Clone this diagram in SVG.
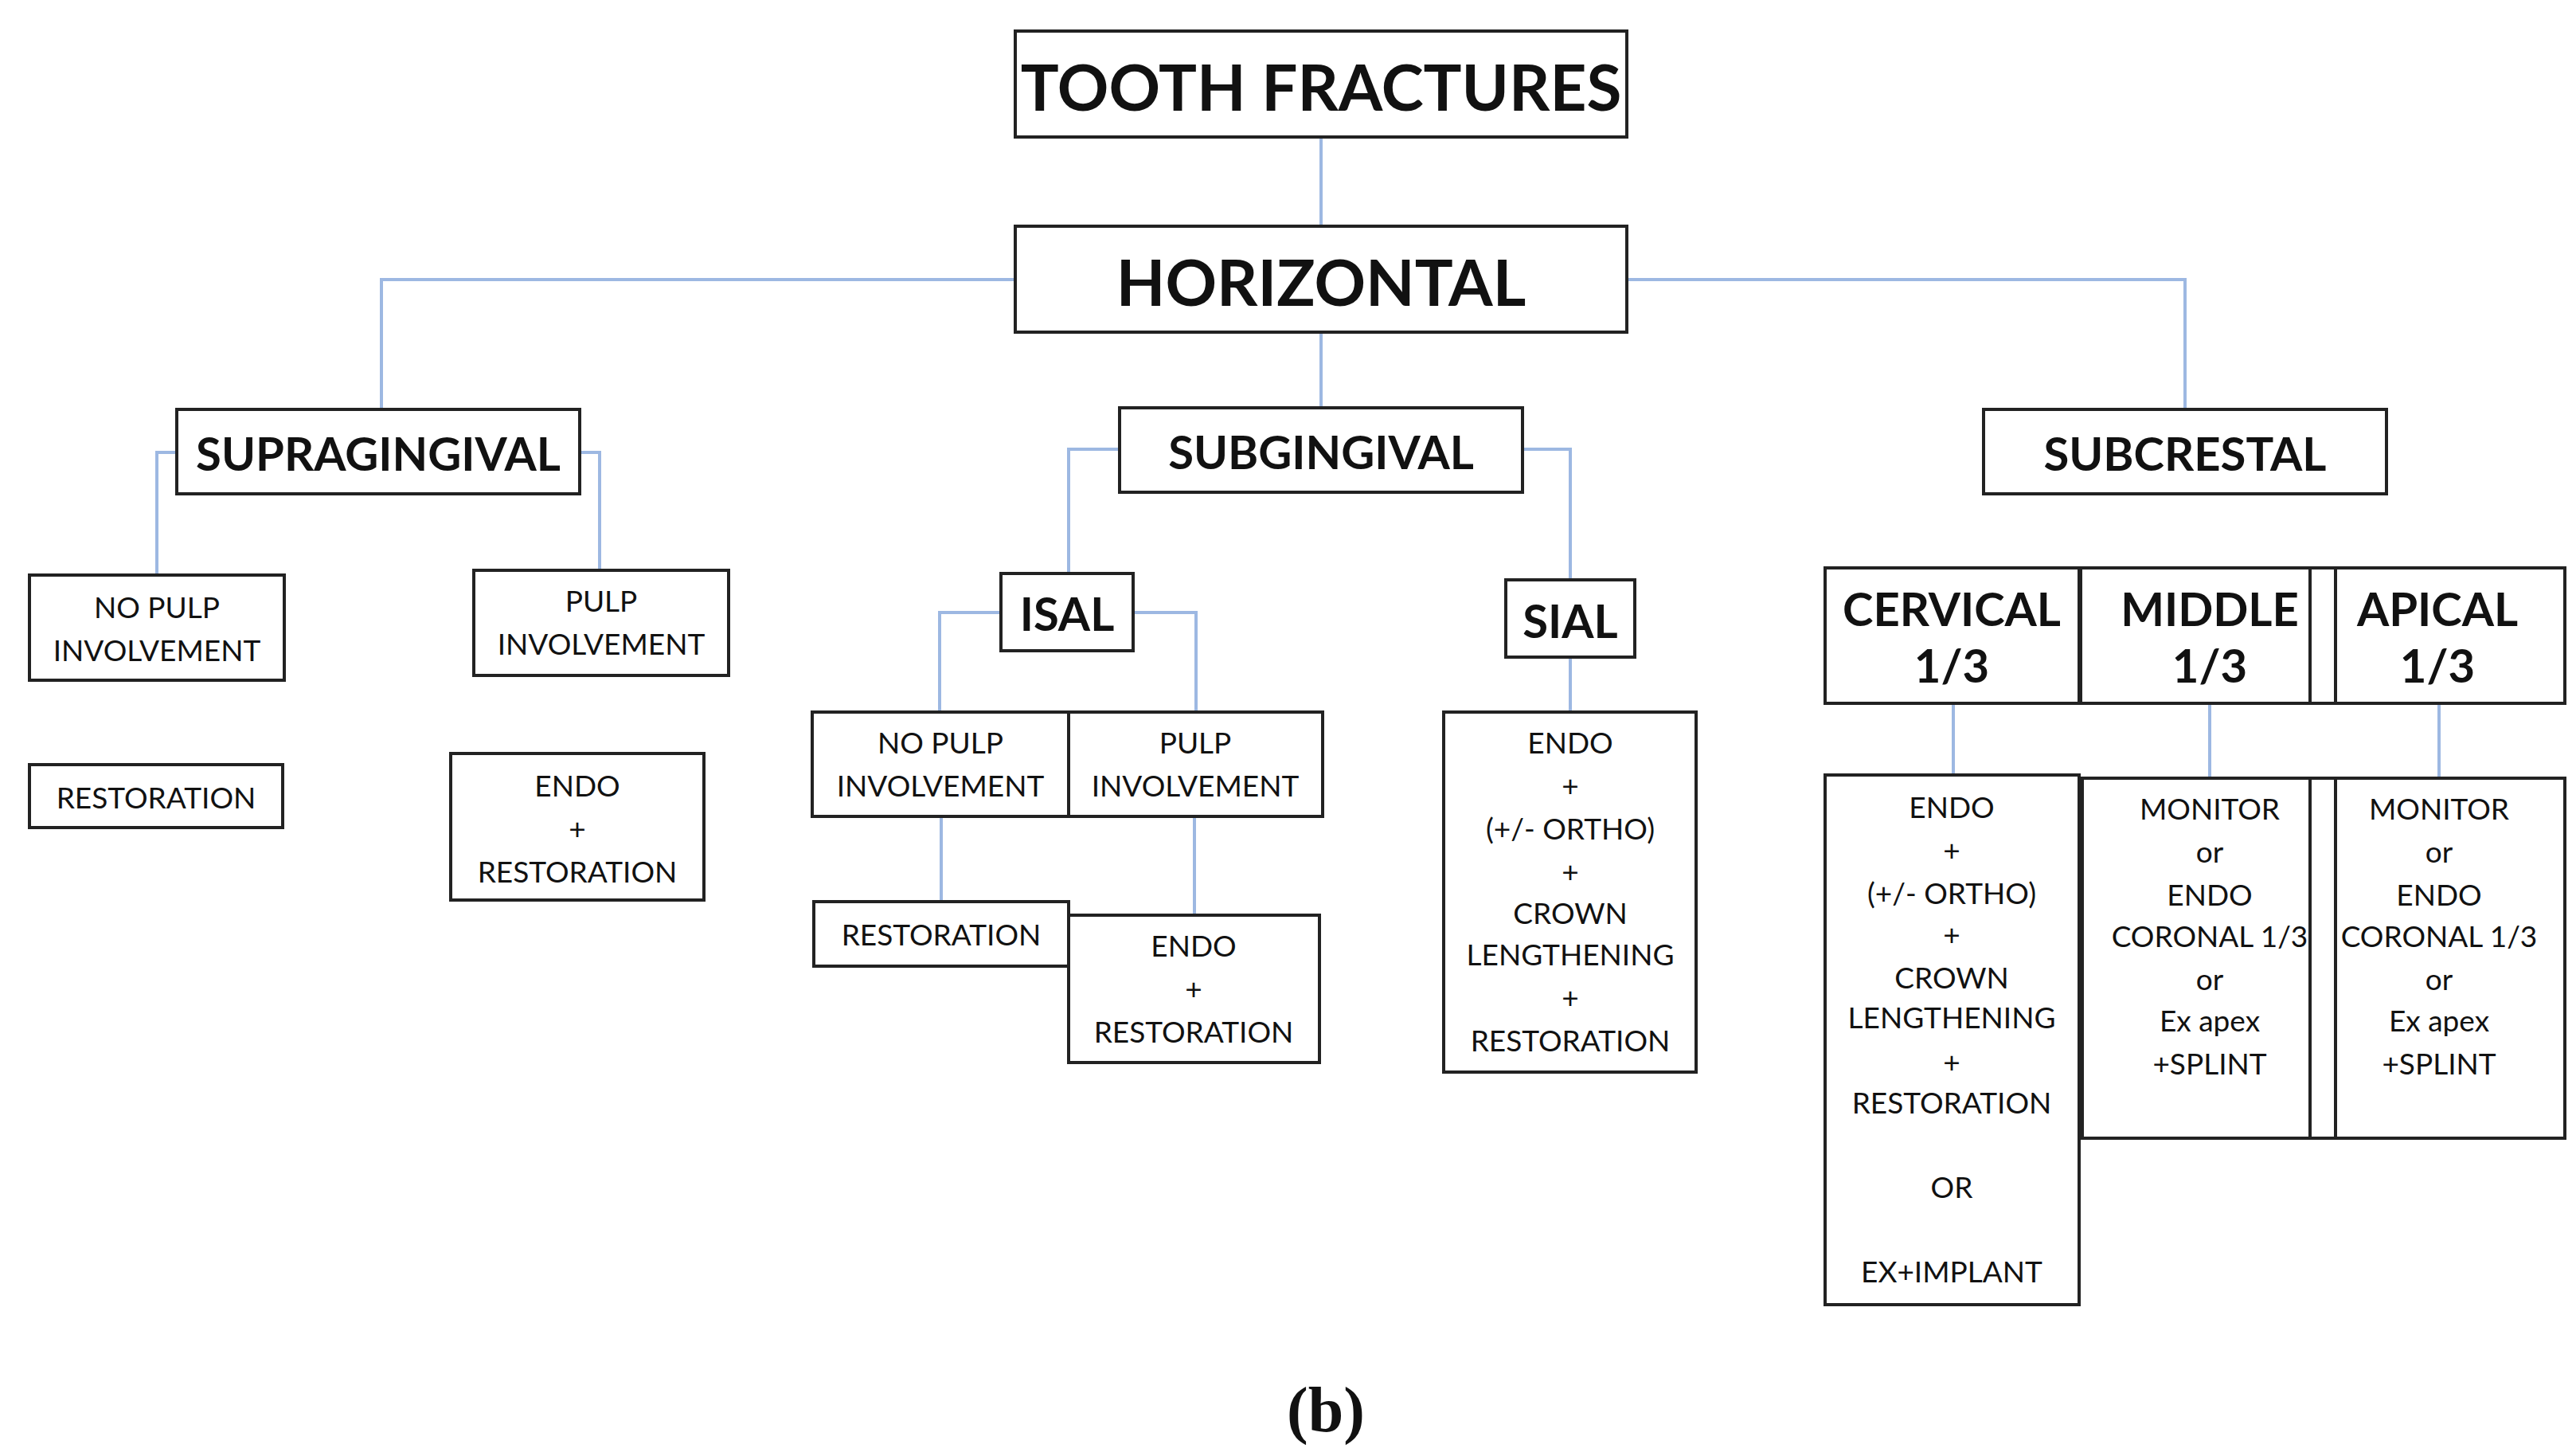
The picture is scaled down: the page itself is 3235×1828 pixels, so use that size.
<svg xmlns="http://www.w3.org/2000/svg" width="3235" height="1828" viewBox="0 0 3235 1828">
<style>
rect{fill:#fff;stroke:#222;stroke-width:4}
text{font-family:Lato,"Open Sans",sans-serif;text-anchor:middle;dominant-baseline:central;fill:#111}
.b{font-weight:bold}
.h1{font-size:80px}
.h2{font-size:58px}
.s{font-size:37px}
#connectors path{fill:none;stroke:#9db8e2;stroke-width:4}
</style>
<rect x="0" y="0" width="3235" height="1828" style="fill:#fff;stroke:none"/>
<g id="connectors">
<path d="M1659 172V284"/>
<path d="M1659 417V512"/>
<path d="M1275 351H479V514"/>
<path d="M2043 351H2744V514"/>
<path d="M222 568H197V722"/>
<path d="M728 568H753V716"/>
<path d="M1406 564H1342V720"/>
<path d="M1912 564H1972V728"/>
<path d="M1257 769H1180V894"/>
<path d="M1423 769H1502V894"/>
<path d="M1182 1025V1132"/>
<path d="M1500 1025V1149"/>
<path d="M1972 825V894"/>
<path d="M2453 883V973"/>
<path d="M2775 883V977"/>
<path d="M3063 883V977"/>
</g>
<g id="tooth"><rect x="1275" y="39" width="768" height="133"/><text class="b h1" x="1659" y="108">TOOTH FRACTURES</text></g>
<g id="horizontal"><rect x="1275" y="284" width="768" height="133"/><text class="b h1" x="1659" y="353">HORIZONTAL</text></g>
<g id="supra"><rect x="222" y="514" width="506" height="106"/><text class="b h2" x="475" y="568">SUPRAGINGIVAL</text></g>
<g id="subg"><rect x="1406" y="512" width="506" height="106"/><text class="b h2" x="1659" y="566">SUBGINGIVAL</text></g>
<g id="subcrestal"><rect x="2491" y="514" width="506" height="106"/><text class="b h2" x="2744" y="568">SUBCRESTAL</text></g>
<g id="supra-nopulp"><rect x="37" y="722" width="320" height="132"/><text class="s" x="197" y="761">NO PULP</text><text class="s" x="197" y="815">INVOLVEMENT</text></g>
<g id="supra-pulp"><rect x="595" y="716" width="320" height="132"/><text class="s" x="755" y="753">PULP</text><text class="s" x="755" y="807">INVOLVEMENT</text></g>
<g id="supra-rest"><rect x="37" y="960" width="318" height="79"/><text class="s" x="196" y="1000">RESTORATION</text></g>
<g id="supra-endo"><rect x="566" y="946" width="318" height="184"/><text class="s" x="725" y="985">ENDO</text><text class="s" x="725" y="1039">+</text><text class="s" x="725" y="1093">RESTORATION</text></g>
<g id="isal"><rect x="1257" y="720" width="166" height="97"/><text class="b h2" x="1340" y="769">ISAL</text></g>
<g id="isal-nopulp"><rect x="1020" y="894" width="322" height="131"/><text class="s" x="1181" y="931">NO PULP</text><text class="s" x="1181" y="985">INVOLVEMENT</text></g>
<g id="isal-pulp"><rect x="1342" y="894" width="319" height="131"/><text class="s" x="1501" y="931">PULP</text><text class="s" x="1501" y="985">INVOLVEMENT</text></g>
<g id="isal-rest"><rect x="1022" y="1132" width="320" height="81"/><text class="s" x="1182" y="1172">RESTORATION</text></g>
<g id="isal-endo"><rect x="1342" y="1149" width="315" height="185"/><text class="s" x="1499" y="1186">ENDO</text><text class="s" x="1499" y="1240">+</text><text class="s" x="1499" y="1294">RESTORATION</text></g>
<g id="sial"><rect x="1891" y="728" width="162" height="97"/><text class="b h2" x="1972" y="778">SIAL</text></g>
<g id="sial-tx"><rect x="1813" y="894" width="317" height="452"/>
<text class="s" x="1972" y="931">ENDO</text><text class="s" x="1972" y="985">+</text><text class="s" x="1972" y="1039">(+/- ORTHO)</text><text class="s" x="1972" y="1093">+</text><text class="s" x="1972" y="1145">CROWN</text><text class="s" x="1972" y="1197">LENGTHENING</text><text class="s" x="1972" y="1251">+</text><text class="s" x="1972" y="1305">RESTORATION</text></g>
<g id="cervical"><rect x="2292" y="713" width="319" height="170"/><text class="b h2" x="2451" y="763">CERVICAL</text><text class="b h2" x="2451" y="834">1/3</text></g>
<g id="middle"><rect x="2613" y="713" width="288" height="170"/><text class="b h2" x="2775" y="763">MIDDLE</text><text class="b h2" x="2775" y="834">1/3</text></g>
<g id="gap-top"><rect x="2901" y="713" width="32" height="170"/></g>
<g id="apical"><rect x="2933" y="713" width="288" height="170"/><text class="b h2" x="3061" y="763">APICAL</text><text class="b h2" x="3061" y="834">1/3</text></g>
<g id="cervical-tx"><rect x="2292" y="973" width="319" height="665"/>
<text class="s" x="2451" y="1012">ENDO</text><text class="s" x="2451" y="1066">+</text><text class="s" x="2451" y="1120">(+/- ORTHO)</text><text class="s" x="2451" y="1172">+</text><text class="s" x="2451" y="1226">CROWN</text><text class="s" x="2451" y="1276">LENGTHENING</text><text class="s" x="2451" y="1332">+</text><text class="s" x="2451" y="1383">RESTORATION</text><text class="s" x="2451" y="1489">OR</text><text class="s" x="2451" y="1595">EX+IMPLANT</text></g>
<g id="middle-tx"><rect x="2615" y="977" width="286" height="452"/>
<text class="s" x="2775" y="1014">MONITOR</text><text class="s" x="2775" y="1068">or</text><text class="s" x="2775" y="1122">ENDO</text><text class="s" x="2775" y="1174">CORONAL 1/3</text><text class="s" x="2775" y="1228">or</text><text class="s" x="2775" y="1280">Ex apex</text><text class="s" x="2775" y="1334">+SPLINT</text></g>
<g id="gap-bottom"><rect x="2901" y="977" width="32" height="452"/></g>
<g id="apical-tx"><rect x="2933" y="977" width="288" height="452"/>
<text class="s" x="3063" y="1014">MONITOR</text><text class="s" x="3063" y="1068">or</text><text class="s" x="3063" y="1122">ENDO</text><text class="s" x="3063" y="1174">CORONAL 1/3</text><text class="s" x="3063" y="1228">or</text><text class="s" x="3063" y="1280">Ex apex</text><text class="s" x="3063" y="1334">+SPLINT</text></g>
<text x="1665" y="1770" style="font-family:'Liberation Serif',serif;font-weight:bold;font-size:80px">(b)</text>
</svg>
